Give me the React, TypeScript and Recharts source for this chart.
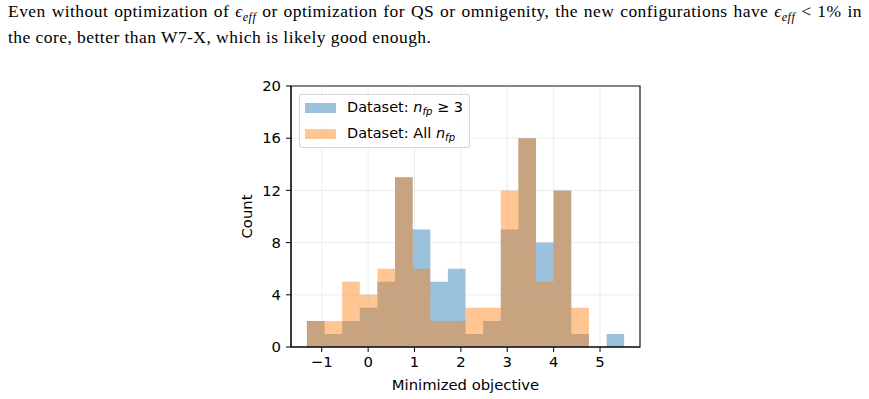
import React from "react";
import {Area, ComposedChart, ReferenceArea, ReferenceLine, XAxis, YAxis} from "recharts";

// histogram bins shared by both datasets
const binEdges = [-1.32, -0.94, -0.56, -0.18, 0.20, 0.58, 0.96, 1.34, 1.72, 2.10, 2.48, 2.86, 3.24, 3.62, 4.00, 4.38, 4.76, 5.14, 5.52];
const countsNfp3 = [2, 1, 2, 3, 5, 13, 9, 5, 6, 1, 2, 9, 16, 8, 12, 1, 0, 1];
const countsAll = [2, 2, 5, 4, 6, 13, 6, 2, 2, 3, 3, 12, 16, 5, 12, 3, 0, 0];

const xTicks = [-1, 0, 1, 2, 3, 4, 5];
const yTicks = [0, 4, 8, 12, 16, 20];
const xDomain = [-1.663, 5.862];
const yDomain = [0, 20];

const BLUE = "#1f77b4";
const ORANGE = "#ff7f0e";
const ALPHA = 0.45;
const SANS = "'DejaVu Sans', sans-serif";
const FS = 14.8;

// step-area rows: each edge carries the count of the bin starting there,
// the closing edge repeats the last bin so the final step has a width
const rows = binEdges.map((x, i) => {
    const j = Math.min(i, countsNfp3.length - 1);
    return {x: x, nfp3: countsNfp3[j], all: countsAll[j]};
});

const fmt = (v: number) => String(v).replace("-", "\u2212");

const NfpLabel = () => (
    <span style={{fontStyle: "italic"}}>
        n<sub style={{fontSize: "0.7em", verticalAlign: "-0.25em"}}>fp</sub>
    </span>
);

const legendRows = [
    {color: BLUE, text: <>Dataset: <NfpLabel/> ≥ 3</>},
    {color: ORANGE, text: <>Dataset: All <NfpLabel/></>},
];

function HistLegend() {
    return (
        <div style={{
            position: "absolute", left: 299, top: 94, width: 169, height: 52,
            border: "1px solid rgba(204,204,204,0.8)", borderRadius: 3,
            background: "rgba(255,255,255,0.8)", fontFamily: SANS, fontSize: 14.5,
            color: "#000"
        }}>
            {legendRows.map((r, i) => (
                <div key={i} style={{position: "absolute", left: 5, top: 3 + i * 26, height: 20, display: "flex", alignItems: "center"}}>
                    <span style={{display: "inline-block", width: 31, height: 10, background: r.color, opacity: ALPHA, marginRight: 11}}/>
                    <span style={{whiteSpace: "nowrap"}}>{r.text}</span>
                </div>
            ))}
        </div>
    );
}

const Eps = () => (
    <span><i>ϵ</i><sub style={{fontSize: "0.7em", verticalAlign: "-0.3em"}}><i>eff</i></sub></span>
);

export default function App() {
    return (
        <div style={{position: "absolute", left: 0, top: 0, width: 869, height: 399, background: "#fff", overflow: "hidden"}}>
            <div style={{
                position: "absolute", left: 8, top: 0, width: 854,
                fontFamily: "'Liberation Serif', serif", fontSize: 17.5, lineHeight: "20px",
                letterSpacing: 0.45, color: "#000"
            }}>
                <div style={{textAlign: "justify", textAlignLast: "justify", whiteSpace: "nowrap", paddingTop: 1}}>
                    Even without optimization of <Eps/> or optimization for QS or omnigenity, the new configurations have <Eps/> &lt; 1% in
                </div>
                <div>the core, better than W7-X, which is likely good enough.</div>
            </div>
            <div style={{position: "absolute", left: 0, top: 0}}>
                <ComposedChart width={869} height={399} data={rows}
                               margin={{top: 86, right: 229, bottom: 9, left: 231}}
                               style={{fontFamily: SANS}}>
                    <XAxis dataKey="x" type="number" domain={xDomain} ticks={xTicks} allowDataOverflow
                           tickFormatter={fmt} height={43} tickSize={5} tickMargin={4}
                           stroke="#000" tick={{fontSize: FS, fill: "#000"}}
                           label={{value: "Minimized objective", position: "insideBottom", offset: 0, fontSize: FS, fill: "#000"}}/>
                    <YAxis type="number" domain={yDomain} ticks={yTicks} allowDataOverflow
                           width={60} tickSize={5} tickMargin={5} stroke="#000"
                           tick={{fontSize: FS, fill: "#000"}}
                           label={{value: "Count", angle: -90, position: "insideLeft", offset: 16, fontSize: FS, fill: "#000", style: {textAnchor: "middle"}}}/>
                    <Area dataKey="nfp3" name="Dataset: nfp ≥ 3" type="stepAfter" fill={BLUE} fillOpacity={ALPHA}
                          stroke="none" isAnimationActive={false} activeDot={false} dot={false}/>
                    <Area dataKey="all" name="Dataset: All nfp" type="stepAfter" fill={ORANGE} fillOpacity={ALPHA}
                          stroke="none" isAnimationActive={false} activeDot={false} dot={false}/>
                    {xTicks.map(t => (
                        <ReferenceLine key={"gx" + t} x={t} stroke="#b0b0b0" strokeOpacity={0.3} strokeWidth={0.8}/>
                    ))}
                    {yTicks.map(t => (
                        <ReferenceLine key={"gy" + t} y={t} stroke="#b0b0b0" strokeOpacity={0.3} strokeWidth={0.8}/>
                    ))}
                    <ReferenceArea x1={xDomain[0]} x2={xDomain[1]} y1={yDomain[0]} y2={yDomain[1]}
                                   fill="none" stroke="#000" strokeWidth={1.1} ifOverflow="visible"/>
                </ComposedChart>
            </div>
            <HistLegend/>
        </div>
    );
}
